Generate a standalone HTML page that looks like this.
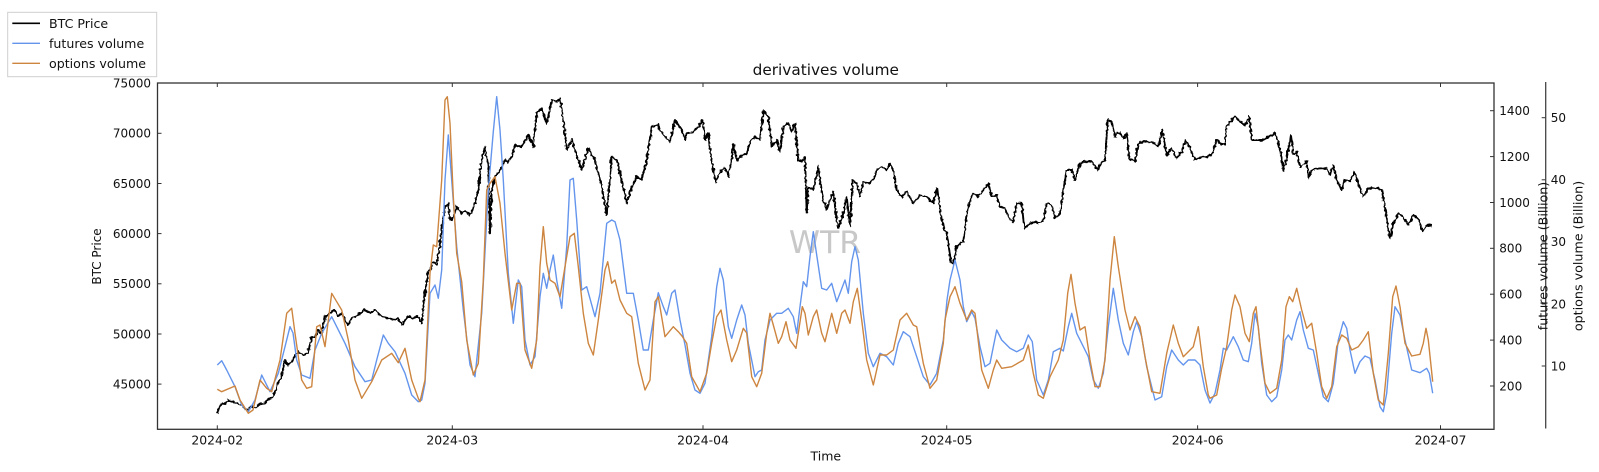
<!DOCTYPE html>
<html>
<head>
<meta charset="utf-8">
<style>
  html,body{margin:0;padding:0;background:#fff;}
  svg{display:block;}
  text{font-family:"DejaVu Sans","Liberation Sans",sans-serif;fill:#111;}
</style>
</head>
<body>
<svg width="1599" height="472" viewBox="0 0 1599 472" xmlns="http://www.w3.org/2000/svg">
  <defs>
    <filter id="jit" filterUnits="userSpaceOnUse" x="150" y="80" width="1300" height="350">
      <feTurbulence type="fractalNoise" baseFrequency="0.35" numOctaves="1" seed="3" result="n"/>
      <feDisplacementMap in="SourceGraphic" in2="n" scale="4" xChannelSelector="R" yChannelSelector="G"/>
    </filter>
  </defs>
  <rect x="0" y="0" width="1599" height="472" fill="#fff"/>

  <!-- Title -->
  <text x="825.8" y="75" font-size="15.3" text-anchor="middle">derivatives volume</text>

  <!-- BTC price line -->
  <polyline filter="url(#jit)" fill="none" stroke="#000" stroke-width="1.9" stroke-linejoin="round" points="
217.3,413.3 219,408 221.7,403.3 225,404 228,400 231.7,401.7 236,403 241.7,405 245,409 248,410 252,406 255,408 260,404 265,403 268,400 271.7,398 275,392 278,383 281,378 285,360 288,365 291.7,361.7 295,356 298,351.7 303,355 308,353 311.7,336.7 315,338 318,330 321,334 325,316.7 330,313 335,310 338,316 341.7,313 345,320 348,325 352,318 355,316.7 360,313 365,310 370,313 375,310 381.7,316.7 388,318 395,320 398,318 401.7,325 405,320 408,316.7 413,318 418,316.7 421.7,323.3 425,293.3 428.3,271.7 431,268 433.3,261.7 436.7,265 440,243.3 445,206.7 448.3,203.3 450,220 453.3,216.7 456.7,206.7 461.7,213.3 466,211 470,215 475,203.3 478.3,190 481.7,160 485,146.7 488.3,166.7 490,233.3 491.7,190 495,176.7 500,170 505,160 508,162 511.7,156.7 515,145 521.7,146.7 525,141 528.3,135 533.3,146.7 536.7,113.3 541.7,108.3 546.7,123.3 551.7,100 556.7,101.7 560,98.3 563.3,120 566.7,150 571.7,140 575,150 578.3,160 581.7,170 588.3,148.3 592,155 595,160 598,172 601.7,186.7 606.7,215 611.7,156.7 616.7,160 621.7,180 626.7,203.3 631.7,186.7 636.7,176.7 641.7,180 646.7,160 651.7,126.7 658.3,125 661,132 665,136.7 670,141.7 675,120 681.7,130 685,140 686.7,133.3 693.3,131.7 698.3,126.7 702.7,120 705,140 708.3,133.3 710,150 713.3,170 716,181.7 720,171.7 725,168.3 728.3,176.7 731.7,158.3 733.3,145 736.7,160 740,156.7 746.7,153.3 750,141.7 755,136.7 760,140 763.3,110 768.3,116.7 771.7,146.7 776.7,140 780,151.7 783.3,126.7 788.3,123.3 791.7,131.7 795,123.3 798.3,160 801.7,161.7 805,156.7 806.7,213.3 808.3,186.7 813.3,190 818.3,166.7 820,180 823.3,200 826.7,210 830,200 833.3,191.7 836.7,220 838.3,228.3 843.3,213.3 846.7,196.7 850,226.7 852.7,180 856.7,183.3 860,196.7 863.3,181.7 868.3,183.3 873.3,180 876.7,170 881.7,166.7 886.7,170 890,163.3 893.3,170 896.7,190 901.7,196.7 906.7,191.7 913.3,203.3 920,195 926.7,196.7 933.3,203.3 937.3,188.3 940,210 943.3,226.7 946.7,233.3 949.3,250 951,262 953.3,263.3 956.7,246.7 960,243.3 963.3,241.7 966.7,213.3 970,200 973.3,193.3 978.3,196.7 983.3,190 988.3,183.3 991.7,196.7 996.7,195 1000,206.7 1005,208.3 1010,220 1013.3,221.7 1016.7,203.3 1021.7,203.3 1024.3,228.3 1030,223.3 1035,222 1038.3,223.3 1043.3,220 1046.7,203.3 1051.7,205 1055,218.3 1060,213.3 1063.3,190 1066.7,170 1071.7,170 1075,180 1080,163.3 1085,161.7 1091.7,161.7 1097.7,170 1101.7,161.7 1105,160 1107.7,120 1111.7,121.7 1115,136.7 1118.3,131.7 1123.3,138.3 1126.7,133.3 1129.3,158.3 1135,161.7 1138.3,143.3 1145,141.7 1151.7,141.7 1158.3,146.7 1162.3,130 1166.7,155 1171.7,148.3 1176.7,158.3 1181.7,151.7 1185.7,140 1190,148.3 1195,160 1201.7,156.7 1206,157 1211.7,155 1213.3,150 1216.7,140 1220,143.3 1225,145 1226.7,126.7 1230,121.7 1235,116.7 1240,121.7 1245,125 1249.3,116.7 1251.7,140 1256.7,140 1263.3,140 1268.3,136.7 1275,133.3 1278.3,141.7 1281.7,158.3 1283.3,170 1286.7,158.3 1291,135 1293.3,155 1296.7,151.7 1300,166.7 1306.7,161.7 1308.3,178.3 1311.7,170 1320,168.3 1326.7,168.3 1330,175 1333.3,165 1336.7,180 1341.7,190 1345,180 1350,181.7 1354,171.7 1358.3,183.3 1363.3,196.7 1368.3,188.3 1376.7,188.3 1381.7,190 1385,206.7 1386.7,220 1390,238.3 1393.3,223.3 1398.3,213.3 1403.3,216.7 1408.3,225 1413.3,215 1418.3,218.3 1422.7,231.7 1426.7,225 1432.7,226"/>

  <!-- Watermark -->
  <text x="825" y="253" font-size="31.5" text-anchor="middle" style="fill:#c8c8c8">WTR</text>

  <!-- Futures volume line -->
  <polyline fill="none" stroke="#6495ED" stroke-width="1.4" stroke-linejoin="round" points="
217.3,365 221.7,360.7 226.7,370 235,386.7 241.7,405 248.3,411.7 255,400 261.7,375 270,391.7 278.3,373.3 285,346.7 290,326.7 293,333 296.7,360 301.7,375 310,378.3 315,350 321.7,333.3 331.7,316.7 336.7,326.7 345,343.3 355,366.7 365,381.7 371.7,380 376.7,360 383.3,335 388.3,343.3 395,351.7 405,373.3 411.7,395 418.3,401.7 421.7,400 425,383.3 430,293.3 435,285 438.3,298.3 441.7,270 445,180 448.3,135 451.7,180 456.7,246.7 463.3,310 470,365 475,376.7 481.7,313.3 488.3,190 493.3,131.7 496.7,96.7 500,130 503.3,180 508.3,273.3 513.3,323.3 518.3,280 521.7,286.7 525,340 530,365 535,356.7 540,296.7 543.3,273.3 546.7,288.3 550,270 553.3,255 556.7,280 561.7,308.3 566.7,246.7 570,180 573.3,178.3 576.7,220 581.7,290 586.7,286.7 595,316.7 600,293.3 606.7,223.3 611.7,220 615,221.7 620,240 626.7,293.3 633.3,293.3 638.3,320 643.3,350 648.3,350 653.3,320 658.3,292.7 663.3,306.7 666.7,315 671.7,293.3 675,290 680,320 685,345 690,373.3 695,390 700,393.3 705,383.3 711.7,336.7 716.7,286.7 720,268.3 723.3,280 728.3,326.7 731.7,338.3 736.7,320 741.7,305 745,315 748.3,343.3 755,376.7 758.3,371.7 761.7,370 765,340 770,320 776.7,313.3 781.7,313.3 788.3,308.3 793.3,316.7 796.7,333.3 800,306.7 803.3,281.7 806.7,286.7 810,256.7 813.3,231.7 816.7,255 821.7,288.3 826.7,290 831.7,283.3 836.7,301.7 840,293.3 845,280 848.3,293.3 851.7,261.7 855,246.7 858.3,260 863.3,313.3 868.3,353.3 873.3,366.7 880,353.3 886.7,356.7 893.3,365 898.3,343.3 903.3,331.7 910,336.7 916.7,356.7 923.3,376.7 930,385 936.7,373.3 943.3,340 947,300 950,280 955,260 960,280 963.3,306.7 966.7,321.7 971.7,311.7 975,318.3 980,346.7 985,366.7 990,363.3 996.7,330 1001.7,340 1010,348.3 1016.7,351.7 1023.3,348.3 1028.3,335 1032.3,341.7 1036.7,380 1043.3,395 1048.3,380 1053.3,351.7 1060,348.3 1063.3,351 1068.3,326.7 1071.7,313.3 1076.7,333.3 1081.7,343.3 1088.3,356.7 1093.3,380 1098.3,388.3 1103.3,373.3 1108.3,326.7 1113.3,288.3 1118.3,320 1123.3,343.3 1128.3,355 1133.3,331.7 1136.7,321.7 1141.7,336.7 1146.7,366.7 1155,400 1161.7,396.7 1166.7,366.7 1171.7,350 1178.3,360 1183.3,365 1188.3,360 1195,360 1200,365 1205,390 1210,403 1215,393.3 1220,370 1223.3,348.3 1226.7,350 1233.3,336.7 1238.3,346.7 1243.3,360 1248.3,361.7 1251.7,343.3 1255,313.3 1258.3,326.7 1261.7,363.3 1266.7,395 1271.7,401.7 1276.7,396.7 1281.7,370 1285,340 1288.3,335 1291.7,340 1296.7,320 1300,311.7 1303.3,330 1308.3,348.3 1313.3,350 1318.3,373.3 1323.3,396.7 1328.3,401.7 1333.3,383.3 1338.3,340 1343.3,321.7 1346.7,328.3 1350,350 1355,373.3 1360,361.7 1365,356 1370,358.3 1375,380 1380,406.7 1383.3,411.7 1386.7,393.3 1391.7,333.3 1395,306.7 1400,315 1405,340 1411.7,370 1420,372.7 1426.7,368.3 1429.3,373.3 1432.7,393.3"/>

  <!-- Options volume line -->
  <polyline fill="none" stroke="#CD853F" stroke-width="1.4" stroke-linejoin="round" points="
217.3,389.3 221.7,391.7 235,386 240,400 248.3,413.3 253,410 260,380 266.7,388.3 271.7,391.7 280,360 286.7,313.3 291.7,308.3 295,333.3 301.7,380 306.7,388.3 311.7,386.7 316.7,326.7 320,325 325,346.7 331.7,293.3 336.7,301.7 341.7,310 348.3,340 355,380 361.7,398.3 371.7,381.7 381.7,360 391.7,353.3 398.3,362.7 405,348.3 411.7,380 418.3,398.3 420,401.7 425,380 430,273.3 433.3,245 436.7,246.7 441.7,180 445,100 447.3,96.7 450,123.3 453.3,196.7 456.7,253.3 461.7,281.7 466.7,340 473.3,375 478.3,363.3 483.3,280 486.7,190 490,183.3 495,176.7 500,203.3 505,253.3 511.7,310 516.7,283.3 520,283.3 525,350 531.7,368.3 536.7,340 540,266.7 543.3,226.7 546.7,263.3 550,280 555,283.3 560,296.7 565,266.7 570,236.7 574.3,233.3 578.3,266.7 583.3,313.3 588.3,343.3 593.3,355 598.3,320 605,270 607.7,261.7 611.7,283.3 615,280 620,300 626.7,313.3 631.7,316.7 638.3,363.3 645,390 650,380 655,301.7 658.3,296.7 665,336.7 673.3,326.7 678.3,331.7 682,336 686.7,343.3 691.7,376.7 700,391.7 706.7,373.3 711.7,343.3 716.7,316.7 721,310 726.7,340 731.7,361.7 736.7,350 743.3,328.3 746.7,333 751.7,376.7 756.7,386.7 761.7,373.3 766.7,333.3 770,313.3 773.3,325 778.3,343.3 781.7,336.7 786,321.7 790,340 796,348.3 799.3,326.7 802.3,306.7 805,313.3 808.3,335 813.3,316.7 816.7,310 821.7,333.3 825,341.7 831.7,313.3 836.7,333.3 841.7,313.3 845,310 850,323.3 853.3,301.7 857.3,288.3 861.7,320 866.7,360 873.3,385 880,355 886.7,355 893.3,350 900,320 906.7,313.3 913.3,325 916.7,326.7 923.3,363.3 930,388.3 936.7,380 943.3,343.3 945,320 950,296.7 955,286.7 960,303.3 966.7,320 971.7,310 975,313.3 981.7,370 988.3,388.3 993.3,370 996.7,360 1001.7,368.3 1011.7,366.7 1023.3,360 1028.3,345 1033.3,373.3 1038.3,395 1043.3,398.3 1050,376.7 1058.3,360 1063.3,340 1067.7,293.3 1071,274.3 1075,303.3 1080,330 1085,326.7 1090,360 1095,386.7 1100,386.7 1105,360 1110,280 1114.3,236.7 1118.3,266.7 1125,310 1130,330 1135,316.7 1140,326.7 1145,356.7 1151.7,391.7 1160,393.3 1166.7,353.3 1173.3,325 1178.3,343.3 1183.3,356.7 1193.3,346.7 1198.3,326.7 1203.3,366.7 1208.3,395 1210,398.3 1216.7,395 1221.7,368.3 1226.7,346.7 1231.7,310 1235,295 1240,306.7 1245,333.3 1249.3,341.7 1253.3,313.3 1256,306.7 1260,343.3 1265,383.3 1270,393.3 1276.7,388.3 1281.7,360 1286,306.7 1289.3,296.7 1292.7,301.7 1296.7,288.3 1301.7,310 1306.7,328.3 1311.7,323.3 1316.7,353.3 1321.7,386.7 1326.7,398.3 1331.7,386.7 1336.7,346.7 1341.7,335 1346.7,338.3 1351.7,350 1358.3,346.7 1363.3,340 1368.3,331.7 1373.3,373.3 1378.3,400 1383.3,405 1388.3,353.3 1392.7,296.7 1396,286 1400,306.7 1405,343.3 1411.7,356 1420,354.3 1423.3,343.3 1426,328.3 1428.3,340 1432.7,381.7"/>

  <!-- Axes frame -->
  <rect x="157.5" y="83" width="1336.5" height="346.3" fill="none" stroke="#333" stroke-width="1.3"/>

  <!-- Ticks (inward) -->
  <g stroke="#333" stroke-width="1">
    <line x1="157.5" y1="133.3" x2="161.5" y2="133.3"/>
    <line x1="157.5" y1="183.5" x2="161.5" y2="183.5"/>
    <line x1="157.5" y1="233.6" x2="161.5" y2="233.6"/>
    <line x1="157.5" y1="283.8" x2="161.5" y2="283.8"/>
    <line x1="157.5" y1="334" x2="161.5" y2="334"/>
    <line x1="157.5" y1="384.1" x2="161.5" y2="384.1"/>
    <line x1="217.3" y1="429.3" x2="217.3" y2="425.3"/>
    <line x1="452.3" y1="429.3" x2="452.3" y2="425.3"/>
    <line x1="703" y1="429.3" x2="703" y2="425.3"/>
    <line x1="946.7" y1="429.3" x2="946.7" y2="425.3"/>
    <line x1="1197.6" y1="429.3" x2="1197.6" y2="425.3"/>
    <line x1="1440.5" y1="429.3" x2="1440.5" y2="425.3"/>
    <line x1="217.3" y1="83" x2="217.3" y2="87"/>
    <line x1="452.3" y1="83" x2="452.3" y2="87"/>
    <line x1="703" y1="83" x2="703" y2="87"/>
    <line x1="946.7" y1="83" x2="946.7" y2="87"/>
    <line x1="1197.6" y1="83" x2="1197.6" y2="87"/>
    <line x1="1440.5" y1="83" x2="1440.5" y2="87"/>
    <line x1="1494" y1="110.7" x2="1490" y2="110.7"/>
    <line x1="1494" y1="156.6" x2="1490" y2="156.6"/>
    <line x1="1494" y1="202.5" x2="1490" y2="202.5"/>
    <line x1="1494" y1="248.3" x2="1490" y2="248.3"/>
    <line x1="1494" y1="294.2" x2="1490" y2="294.2"/>
    <line x1="1494" y1="340.1" x2="1490" y2="340.1"/>
    <line x1="1494" y1="386" x2="1490" y2="386"/>
    <line x1="1545.7" y1="117.7" x2="1541.7" y2="117.7"/>
    <line x1="1545.7" y1="179.8" x2="1541.7" y2="179.8"/>
    <line x1="1545.7" y1="241.9" x2="1541.7" y2="241.9"/>
    <line x1="1545.7" y1="304" x2="1541.7" y2="304"/>
    <line x1="1545.7" y1="366" x2="1541.7" y2="366"/>
  </g>
  <!-- Options spine -->
  <line x1="1545.7" y1="82" x2="1545.7" y2="428.5" stroke="#444" stroke-width="1.3"/>

  <!-- Left tick labels -->
  <g font-size="12" text-anchor="end">
    <text x="151" y="87.5">75000</text>
    <text x="151" y="137.6">70000</text>
    <text x="151" y="187.8">65000</text>
    <text x="151" y="237.9">60000</text>
    <text x="151" y="288.1">55000</text>
    <text x="151" y="338.3">50000</text>
    <text x="151" y="388.4">45000</text>
  </g>

  <!-- Bottom tick labels -->
  <g font-size="12.4" text-anchor="middle">
    <text x="217.3" y="444.5">2024-02</text>
    <text x="452.3" y="444.5">2024-03</text>
    <text x="703" y="444.5">2024-04</text>
    <text x="946.7" y="444.5">2024-05</text>
    <text x="1197.6" y="444.5">2024-06</text>
    <text x="1440.5" y="444.5">2024-07</text>
  </g>

  <!-- Futures tick labels -->
  <g font-size="12">
    <text x="1499.3" y="115">1400</text>
    <text x="1499.3" y="160.9">1200</text>
    <text x="1499.3" y="206.8">1000</text>
    <text x="1499.3" y="252.6">800</text>
    <text x="1499.3" y="298.5">600</text>
    <text x="1499.3" y="344.4">400</text>
    <text x="1499.3" y="390.3">200</text>
  </g>

  <!-- Options tick labels -->
  <g font-size="12">
    <text x="1550.7" y="122">50</text>
    <text x="1550.7" y="184.1">40</text>
    <text x="1550.7" y="246.2">30</text>
    <text x="1550.7" y="308.3">20</text>
    <text x="1550.7" y="370.3">10</text>
  </g>

  <!-- Axis labels -->
  <text x="825.8" y="460.5" font-size="12.5" text-anchor="middle">Time</text>
  <text transform="translate(101,256.5) rotate(-90)" font-size="12" text-anchor="middle">BTC Price</text>
  <text transform="translate(1547.5,256) rotate(-90)" font-size="12.7" text-anchor="middle">futures volume (Billion)</text>
  <text transform="translate(1582.5,256) rotate(-90)" font-size="12.7" text-anchor="middle">options volume (Billion)</text>

  <!-- Legend -->
  <rect x="7.7" y="12.3" width="149" height="64.4" fill="#fff" stroke="#cfcfcf" stroke-width="1"/>
  <line x1="12.3" y1="23.3" x2="40" y2="23.3" stroke="#000" stroke-width="1.6"/>
  <line x1="12.3" y1="43.3" x2="40" y2="43.3" stroke="#6495ED" stroke-width="1.4"/>
  <line x1="12.3" y1="63.3" x2="40" y2="63.3" stroke="#CD853F" stroke-width="1.4"/>
  <g font-size="12.6">
    <text x="49" y="27.8">BTC Price</text>
    <text x="49" y="47.8">futures volume</text>
    <text x="49" y="67.8">options volume</text>
  </g>
</svg>
</body>
</html>
